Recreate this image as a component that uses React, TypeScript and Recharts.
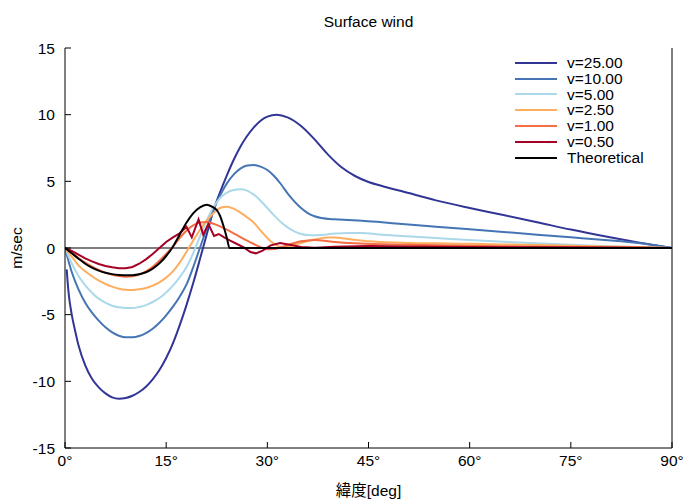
import React from 'react';
import { LineChart, Line, XAxis, YAxis, ReferenceLine, Legend } from 'recharts';

// ------------------------------------------------------------------
// Surface wind (m/sec) against latitude, one array per experiment
// ------------------------------------------------------------------
const latTicks = [0, 15, 30, 45, 60, 75, 90];
const windTicks = [-15, -10, -5, 0, 5, 10, 15];

const lat25 = [0.25, 0.5, 1, 1.5, 2, 3, 4, 5, 6, 7, 8, 9, 10, 11, 12, 13, 14, 15, 16, 17, 18, 19, 20, 21, 22, 23, 24, 25, 26, 27, 28, 29, 30, 31.4, 33, 35, 37, 39, 41, 43, 45, 47, 50, 55, 60, 65, 70, 75, 80, 85, 90];
const wind25 = [-1.6, -3.2, -5.0, -6.2, -7.3, -8.8, -9.8, -10.45, -10.9, -11.2, -11.3, -11.25, -11.08, -10.8, -10.4, -9.85, -9.15, -8.25, -7.15, -5.8, -4.3, -2.65, -0.85, 1.0, 2.8, 4.2, 5.45, 6.6, 7.6, 8.4, 9.05, 9.55, 9.85, 10.0, 9.8, 9.15, 8.15, 7.0, 6.05, 5.4, 4.95, 4.65, 4.25, 3.57, 3.0, 2.47, 1.93, 1.38, 0.88, 0.42, 0];

const lat10 = [0, 1, 2, 3, 4, 5, 6, 7, 8, 9, 10, 11, 12, 13, 14, 15, 16, 17, 18, 19, 20, 21, 22, 23, 24, 25, 26, 27, 28, 29, 30, 31, 32, 33, 34, 35, 36, 37, 38, 40, 42, 44, 47, 50, 55, 60, 65, 70, 75, 80, 85, 90];
const wind10 = [0, -1.8, -3.1, -4.1, -4.85, -5.45, -5.95, -6.33, -6.58, -6.7, -6.7, -6.6, -6.38, -6.05, -5.6, -5.05, -4.4, -3.65, -2.75, -1.45, 0, 1.45, 2.85, 3.95, 4.85, 5.5, 5.95, 6.18, 6.22, 6.1, 5.85, 5.4, 4.8, 4.1, 3.5, 3.0, 2.62, 2.38, 2.25, 2.15, 2.1, 2.05, 1.93, 1.8, 1.6, 1.4, 1.2, 1.0, 0.8, 0.6, 0.38, 0];

const lat5 = [0, 1, 2, 3, 4, 5, 6, 7, 8, 9, 10, 11, 12, 13, 14, 15, 16, 17, 18, 19, 20, 21, 22, 23, 24, 25, 26, 27, 28, 29, 30, 31, 32, 33, 34, 35, 36, 37, 38, 40, 42, 44, 47, 50, 55, 60, 65, 70, 75, 80, 85, 90];
const wind5 = [0, -1.15, -2.1, -2.8, -3.35, -3.8, -4.1, -4.33, -4.45, -4.5, -4.5, -4.42, -4.28, -4.05, -3.75, -3.33, -2.82, -2.2, -1.45, -0.4, 0.85, 2.05, 3.05, 3.75, 4.15, 4.35, 4.4, 4.3, 4.0, 3.55, 3.0, 2.45, 1.95, 1.55, 1.25, 1.05, 0.97, 0.95, 0.98, 1.08, 1.13, 1.12, 1.0, 0.9, 0.75, 0.6, 0.47, 0.35, 0.25, 0.15, 0.07, 0];

const lat2p5 = [0, 1, 2, 3, 4, 5, 6, 7, 8, 9, 10, 11, 12, 13, 14, 15, 16, 17, 18, 19, 20, 21, 22, 23, 24, 25, 26, 27, 28, 29, 30, 31, 32, 33, 34, 35, 36, 37, 38, 39, 40, 42, 45, 50, 55, 60, 65, 70, 75, 80, 85, 90];
const wind2p5 = [0, -0.65, -1.3, -1.75, -2.12, -2.45, -2.7, -2.9, -3.05, -3.13, -3.15, -3.1, -3.0, -2.82, -2.57, -2.22, -1.75, -1.1, -0.3, 0.55, 1.35, 2.05, 2.6, 3.0, 3.1, 2.95, 2.65, 2.3, 1.9, 1.3, 0.75, 0.3, 0.1, 0.12, 0.22, 0.38, 0.52, 0.64, 0.74, 0.78, 0.78, 0.68, 0.5, 0.4, 0.35, 0.31, 0.27, 0.22, 0.17, 0.12, 0.07, 0];

const lat1 = [0, 1, 2, 3, 4, 5, 6, 7, 8, 9, 10, 11, 12, 13, 14, 15, 16, 17, 18, 19, 20, 21, 22, 23, 24, 25, 26, 27, 28, 29, 30, 31, 32, 33, 34, 35, 36, 37, 38, 40, 43, 47, 50, 55, 60, 65, 70, 75, 80, 85, 90];
const wind1 = [0, -0.35, -0.75, -1.1, -1.4, -1.65, -1.85, -2.0, -2.1, -2.15, -2.12, -2.0, -1.75, -1.4, -0.95, -0.45, 0.1, 0.75, 1.3, 1.7, 1.92, 1.95, 1.82, 1.62, 1.37, 1.1, 0.82, 0.55, 0.3, 0.07, -0.1, -0.08, 0.05, 0.22, 0.37, 0.5, 0.57, 0.6, 0.56, 0.45, 0.35, 0.28, 0.25, 0.2, 0.16, 0.13, 0.1, 0.08, 0.05, 0.03, 0];

const lat0p5 = [0, 1, 2, 3, 4, 5, 6, 7, 8, 9, 10, 11, 12, 13, 14, 15, 16, 17, 18, 18.8, 19.8, 20.5, 21.25, 22.1, 22.8, 23.6, 24.5, 25.5, 26.5, 27.5, 28.3, 29.3, 30.5, 31.9, 33.3, 35, 37, 40, 45, 50, 60, 70, 80, 90];
const wind0p5 = [0, -0.22, -0.5, -0.78, -1.0, -1.2, -1.35, -1.45, -1.52, -1.52, -1.42, -1.18, -0.85, -0.45, 0, 0.45, 0.8, 1.1, 1.6, 0.8, 2.15, 1.0, 1.8, 0.9, 1.05, 0.8, 0.55, 0.3, 0.05, -0.3, -0.4, -0.2, 0.2, 0.38, 0.25, 0.08, 0.02, 0.1, 0.15, 0.12, 0.08, 0.05, 0.03, 0];

const latTheory = [0, 1, 2, 3, 4, 5, 6, 7, 8, 9, 10, 11, 12, 13, 14, 15, 16, 17, 18, 19, 20, 21, 22, 22.5, 23, 23.5, 24, 24.4, 90];
const windTheory = [0, -0.4, -0.8, -1.18, -1.48, -1.7, -1.86, -1.96, -2.02, -2.05, -2.04, -1.97, -1.82, -1.55, -1.15, -0.6, 0.1, 1.0, 1.9, 2.6, 3.05, 3.25, 3.05, 2.85, 2.4, 1.65, 0.75, 0, 0];

const toRows = (lat: number[], wind: number[]) => lat.map((l, i) => ({ lat: l, v: wind[i] }));

const series = [
  { name: 'v=25.00', color: '#313695', data: toRows(lat25, wind25), smooth: true },
  { name: 'v=10.00', color: '#4575b4', data: toRows(lat10, wind10), smooth: true },
  { name: 'v=5.00', color: '#abd9e9', data: toRows(lat5, wind5), smooth: true },
  { name: 'v=2.50', color: '#fdae61', data: toRows(lat2p5, wind2p5), smooth: true },
  { name: 'v=1.00', color: '#f46d43', data: toRows(lat1, wind1), smooth: true },
  { name: 'v=0.50', color: '#a50026', data: toRows(lat0p5, wind0p5), smooth: false },
  { name: 'Theoretical', color: '#000000', data: toRows(latTheory, windTheory), smooth: true },
];
const seriesOrder = series.map((s) => s.name);

const font = '"Liberation Sans", Arial, "Noto Sans CJK JP", sans-serif';
const tickStyle = { fill: '#000', fontSize: 15.5, fontFamily: font };

const renderLegend = (props: any) => {
  const items = [...(props.payload || [])].sort(
    (a: any, b: any) => seriesOrder.indexOf(a.value) - seriesOrder.indexOf(b.value)
  );
  return (
    <div style={{ fontFamily: font, fontSize: 15.5, color: '#000' }}>
      {items.map((p: any) => (
        <div key={p.value} style={{ display: 'flex', alignItems: 'center', height: 15.8, whiteSpace: 'nowrap' }}>
          <span style={{ display: 'inline-block', width: 42, borderTop: `2px solid ${p.color}`, marginRight: 10 }} />
          <span>{p.value}</span>
        </div>
      ))}
    </div>
  );
};

export default function App() {
  return (
    <div style={{ position: 'absolute', left: 0, top: 0, width: 700, height: 500, background: '#fff', fontFamily: font }}>
      <div style={{ position: 'absolute', top: 13, left: 65, width: 607, textAlign: 'center', fontSize: 15.5 }}>
        Surface wind
      </div>
      <div style={{ position: 'absolute', top: 478, left: 65, width: 607, textAlign: 'center', fontSize: 15.5 }}>
        緯度[deg]
      </div>
      <div style={{ position: 'absolute', left: 17, top: 248, fontSize: 15.5, transform: 'translate(-50%, -50%) rotate(-90deg)', whiteSpace: 'nowrap' }}>
        m/sec
      </div>
      <LineChart width={700} height={500} margin={{ top: 48, right: 0, bottom: 0, left: 0 }}>
        <XAxis
          dataKey="lat"
          type="number"
          domain={[0, 90]}
          ticks={latTicks}
          tickFormatter={(v: number) => `${v}°`}
          height={52}
          tickSize={-6}
          tickMargin={13}
          tick={tickStyle}
          stroke="#000"
          allowDataOverflow
        />
        <XAxis
          xAxisId="top"
          orientation="top"
          dataKey="lat"
          type="number"
          domain={[0, 90]}
          ticks={latTicks}
          tickFormatter={() => ''}
          height={0}
          tickSize={-6}
          stroke="#000"
        />
        <YAxis
          type="number"
          domain={[-15, 15]}
          ticks={windTicks}
          width={65}
          tickSize={-6}
          tickMargin={16}
          tick={tickStyle}
          stroke="#000"
          allowDataOverflow
        />
        <YAxis
          yAxisId="right"
          orientation="right"
          type="number"
          domain={[-15, 15]}
          ticks={windTicks}
          tickFormatter={() => ''}
          width={28}
          tickSize={-6}
          stroke="#000"
        />
        <ReferenceLine y={0} stroke="#000" strokeWidth={1.2} />
        {series.map((s) => (
          <Line
            key={s.name}
            data={s.data}
            dataKey="v"
            name={s.name}
            type={s.smooth ? 'monotone' : 'linear'}
            stroke={s.color}
            strokeWidth={2}
            dot={false}
            activeDot={false}
            isAnimationActive={false}
          />
        ))}
        <Legend
          layout="vertical"
          align="center"
          verticalAlign="middle"
          content={renderLegend}
          wrapperStyle={{ position: 'absolute', top: 55, left: 515, width: 170 }}
        />
      </LineChart>
    </div>
  );
}
